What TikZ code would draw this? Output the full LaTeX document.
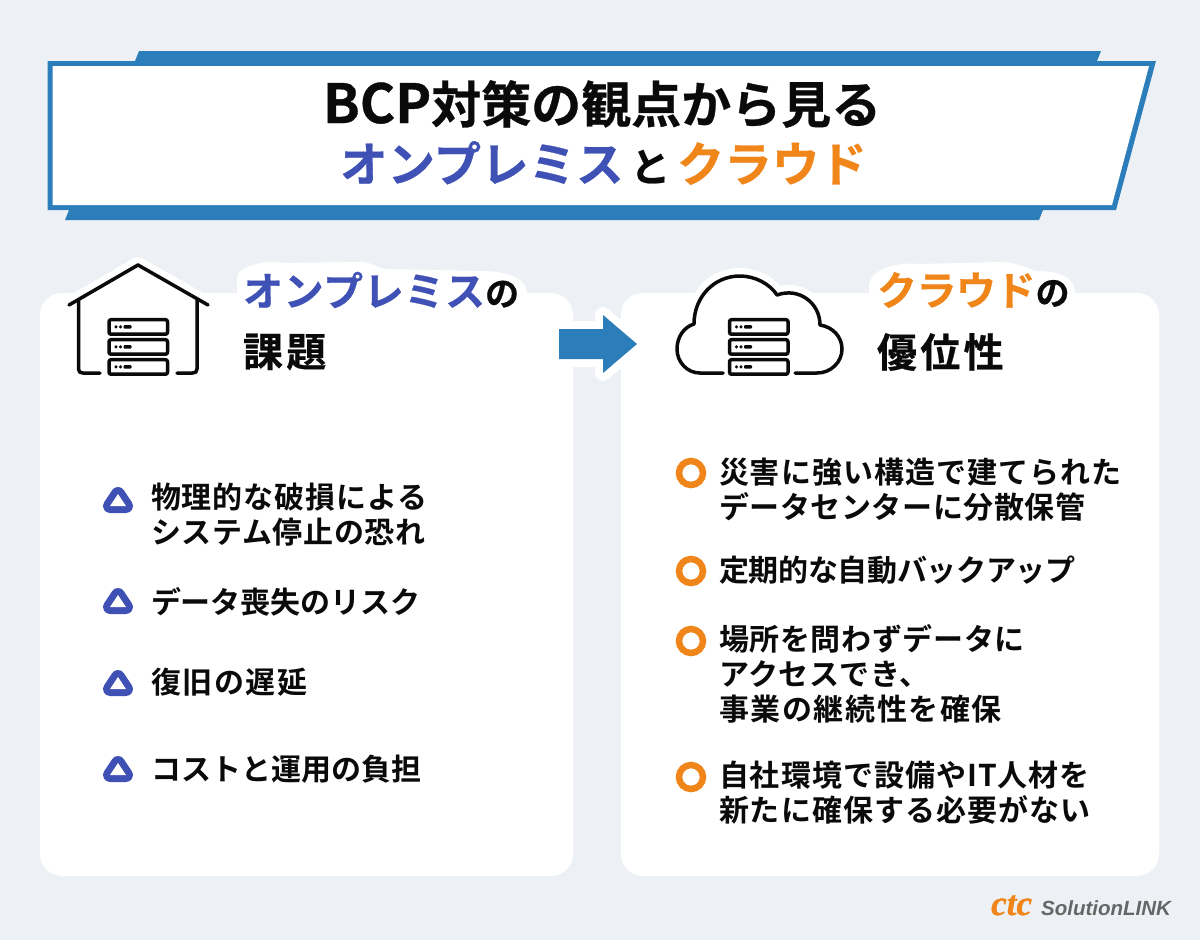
\documentclass[tikz,border=0pt]{standalone}
\usepackage{fontspec}
\setmainfont{Noto Sans CJK JP}
\newfontfamily\jpb{Noto Sans CJK JP Bold}
\newfontfamily\jph[FakeBold=0.6]{Noto Sans CJK JP Bold}
\newfontfamily\jpt[FakeBold=0.6]{Noto Sans CJK JP Bold}
\newfontfamily\logoserif[FakeBold=1]{Liberation Serif Bold Italic}
\newfontfamily\logosans{Liberation Sans Bold Italic}
\newcommand{\spc}[2]{{\addfontfeature{LetterSpace=#1}#2}}
\definecolor{bgc}{HTML}{EDF1F5}
\definecolor{bluec}{HTML}{2C7EBB}
\definecolor{indigoc}{HTML}{3F51B5}
\definecolor{orangec}{HTML}{F08519}
\definecolor{inkc}{HTML}{0A0A0A}
\tikzset{
  card/.style={fill=white,draw=none,rounded corners=22pt},
  txt/.style={inner sep=0pt,outer sep=0pt,anchor=west,text=inkc,font=\fontsize{30}{30}\selectfont\jpb},
  head/.style={inner sep=0pt,outer sep=0pt,anchor=west,text=inkc,font=\fontsize{40}{40}\selectfont\jph},
  ttl/.style={inner sep=0pt,outer sep=0pt,anchor=west,text=inkc,font=\fontsize{50}{50}\selectfont\jpt},
  ico/.style={draw=inkc,line width=3.5pt,line cap=round,line join=round},
  halo/.style={draw=white,fill=white,line width=16pt,line join=round,line cap=round},
  tri/.style={draw=indigoc,fill=indigoc,line width=14pt,line join=round},
  hole/.style={fill=white,draw=none},
  ring/.style={draw=orangec,line width=6.5pt,fill=none},
}
\newcommand{\serverstack}[2]{%
  \foreach \k in {0,1,2}{
    \draw[ico,rounded corners=2pt,fill=white] (#1,#2+\k*20) rectangle (#1+58.5,#2+\k*20+14.5);
    \fill[inkc] (#1+7,#2+\k*20+7.2) circle (1.7) (#1+11.5,#2+\k*20+7.2) circle (1.7);
    \fill[inkc,rounded corners=1pt] (#1+14.5,#2+\k*20+5.4) rectangle (#1+22.5,#2+\k*20+9);
  }}
\begin{document}
\begin{tikzpicture}[x=1pt,y=-1pt]
\useasboundingbox (0,0) rectangle (1200,940);
\fill[bgc] (0,0) rectangle (1200,940);
% title banner
\fill[bluec] (139,51) -- (1101,51) -- (1097,61) -- (135,61) -- cycle;
\fill[bluec] (69,210) -- (1043,210) -- (1039,220) -- (65,220) -- cycle;
\fill[bluec] (47.5,61) -- (1156,61) -- (1116,210) -- (47.5,210) -- cycle;
\fill[white] (52.7,66) -- (1149,66) -- (1112,205) -- (52.7,205) -- cycle;
\node[ttl] (t1) at (323,104) {{\fontsize{54}{54}\selectfont BCP}対策の観点から見る};
\node[ttl,font=\fontsize{47.5}{47.5}\selectfont\jpt] (t2) at (340,163) {\textcolor{indigoc}{オンプレミス}{\fontsize{40}{40}\selectfont\,と\,}\textcolor{orangec}{クラウド}};
% cards
\fill[card] (40,293) rectangle (573,876);
\fill[card] (621,293) rectangle (1159,876);
% house
\draw[halo] (69,305) -- (138,265) -- (208,305);
\draw[ico] (69,305) -- (138,265) -- (208,305);
\draw[ico] (78.5,300) -- (78.5,369) .. controls (78.5,372) and (80,373) .. (83,373) -- (100,373);
\draw[ico] (197,300) -- (197,369) .. controls (197,372) and (195.5,373) .. (192.5,373) -- (177,373);
\serverstack{109}{319.7}
% arrow
\draw[halo] (559,329) -- (603,329) -- (603,315) -- (637,344) -- (603,373) -- (603,359) -- (559,359) -- cycle;
\fill[bluec] (559,329) -- (603,329) -- (603,315) -- (637,344) -- (603,373) -- (603,359) -- (559,359) -- cycle;
% cloud
\draw[halo] (723,373) -- (700,373) .. controls (687,373) and (677,362) .. (677,349) .. controls (677,337) and (684,327) .. (694,324) .. controls (694,297) and (714,276) .. (740,276) .. controls (755,276) and (770,284) .. (777,295) .. controls (799,287) and (820,303) .. (820,325) .. controls (833,327) and (842,337) .. (842,349) .. controls (842,362) and (831,373) .. (817,373) -- (795,373) -- cycle;
\draw[ico] (723,373) -- (700,373) .. controls (687,373) and (677,362) .. (677,349) .. controls (677,337) and (684,327) .. (694,324) .. controls (694,297) and (714,276) .. (740,276) .. controls (755,276) and (770,284) .. (777,295) .. controls (799,287) and (820,303) .. (820,325) .. controls (833,327) and (842,337) .. (842,349) .. controls (842,362) and (831,373) .. (817,373) -- (795,373);
\serverstack{729.5}{319.7}
% heading halos
\draw[halo] (245,278) .. controls (250,272) and (270,268) .. (283,271) -- (360,270) .. controls (370,270) and (375,276) .. (385,277) -- (480,279) .. controls (500,279) and (518,283) .. (519,293) -- (245,293) -- cycle;
\draw[halo] (877,285) .. controls (880,275) and (900,270) .. (920,272) -- (1000,270) .. controls (1015,270) and (1025,276) .. (1035,279) .. controls (1055,279) and (1067,283) .. (1067,293) -- (877,293) -- cycle;
% headings
\node[head] (h1) at (243,290) {\textcolor{indigoc}{\spc{1.65}{オンプレミス}}{\fontsize{34}{34}\selectfont\spc{10}{の}}};
\node[head] (h2) at (243,352) {\spc{8.3}{課題}};
\node[head] (h3) at (877,290) {\textcolor{orangec}{\spc{-1.2}{クラウド}}{\fontsize{34}{34}\selectfont\spc{10}{の}}};
\node[head] (h4) at (877,352) {\spc{8.3}{優位性}};
% left bullets
\foreach \y in {500,601,683,769}{
  \draw[tri] (110,\y+6) -- (126,\y+6) -- (118,\y-6) -- cycle;
  \fill[hole] (110,\y+6) -- (126,\y+6) -- (118,\y-6) -- cycle;
}
\node[txt] (l1) at (151,497) {\spc{3.05}{物理的な破損による}};
\node[txt] (l2) at (151,532) {\spc{2.3}{システム停止の恐れ}};
\node[txt] (l3) at (151,602) {\spc{-0.2}{データ喪失のリスク}};
\node[txt] (l4) at (151,682) {\spc{5.4}{復旧の遅延}};
\node[txt] (l5) at (151,769) {\spc{0.15}{コストと運用の負担}};
% right bullets
\foreach \y in {473,571,641,777}{
  \draw[ring] (691,\y) circle (12);
}
\node[txt] (r1) at (719,472) {\spc{3.4}{災害に強い構造で建てられた}};
\node[txt] (r2) at (719,507) {\spc{2}{データセンターに分散保管}};
\node[txt] (r3) at (719,570) {\spc{-1.1}{定期的な自動バックアップ}};
\node[txt] (r4) at (719,639) {\spc{2.2}{場所を問わずデータに}};
\node[txt] (r5) at (719,674) {\spc{2}{アクセスでき、}};
\node[txt] (r6) at (719,709) {\spc{5.4}{事業の継続性を確保}};
\node[txt] (r7) at (719,775) {\spc{3.4}{自社環境で設備やIT人材を}};
\node[txt] (r8) at (719,810) {\spc{3.4}{新たに確保する必要がない}};
% logo
\node[inner sep=0pt,anchor=base west,text=orangec,font=\fontsize{35}{35}\selectfont\logoserif] (lg1) at (991,915) {ctc};
\node[inner sep=0pt,anchor=base west,text=black!60,font=\fontsize{20.5}{20.5}\selectfont\logosans] (lg2) at (1041,915) {SolutionLINK};
\end{tikzpicture}
\end{document}
